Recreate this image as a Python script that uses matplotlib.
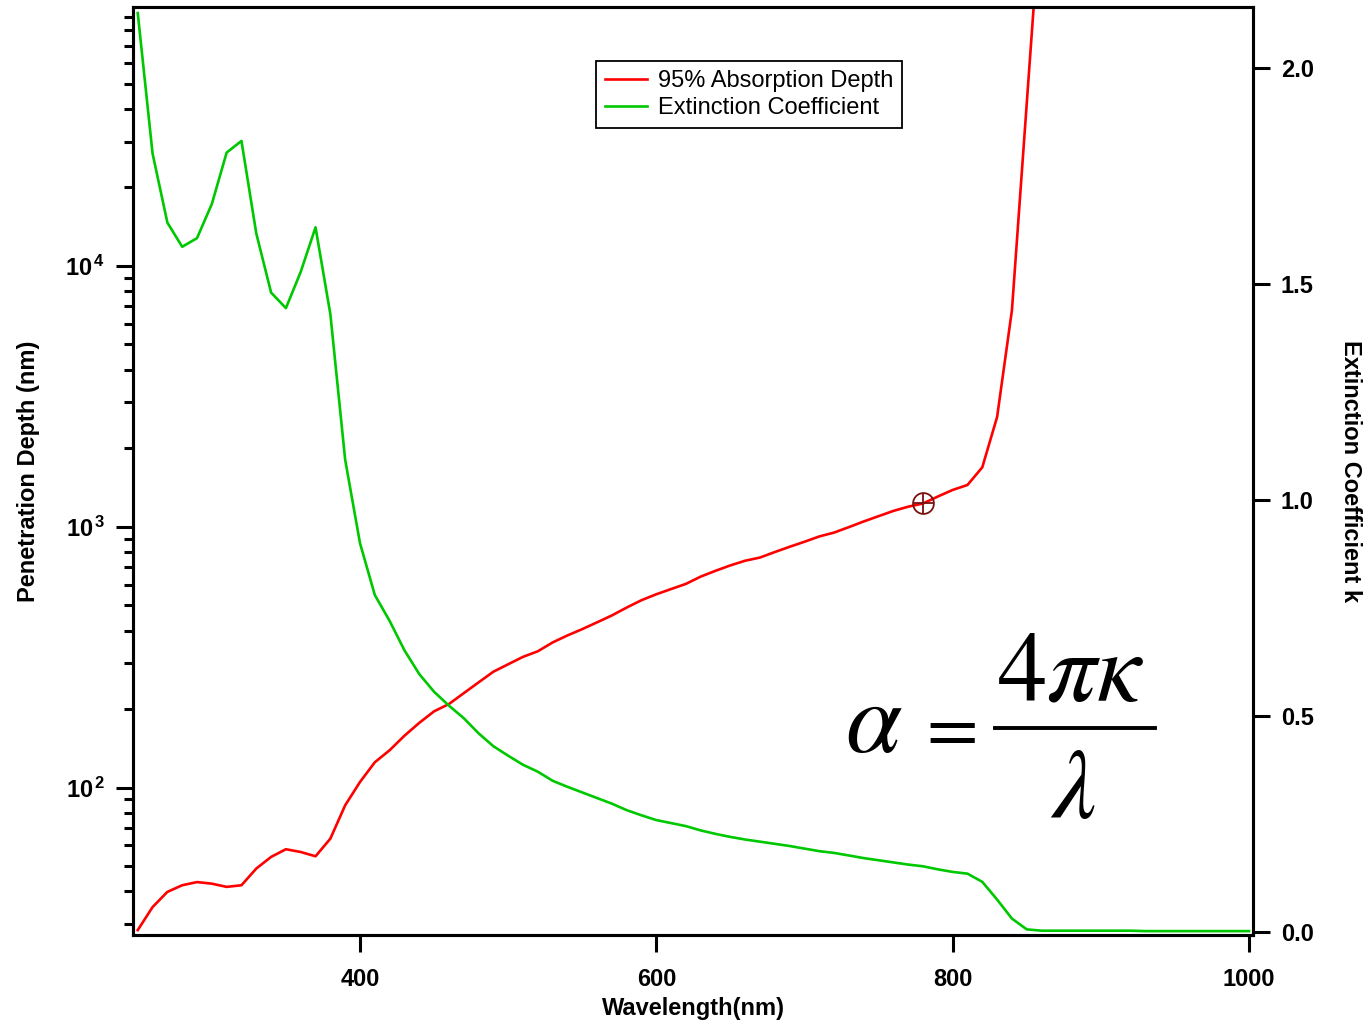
import math
import matplotlib
matplotlib.use("Agg")
import matplotlib.pyplot as plt
from matplotlib.lines import Line2D
from matplotlib.ticker import FixedLocator, LogLocator, NullFormatter, FuncFormatter

plt.rcParams['font.family'] = ['Liberation Sans', 'DejaVu Sans']
plt.rcParams['mathtext.fontset'] = 'custom'
plt.rcParams['mathtext.rm'] = 'Liberation Sans:bold'
plt.rcParams['mathtext.bf'] = 'Liberation Sans:bold'
plt.rcParams['mathtext.it'] = 'Liberation Sans:bold'

# ---------------- data ----------------
wavelength_k = list(range(250, 1001, 10))
extinction_k = [
    2.127, 1.802, 1.642, 1.586, 1.606, 1.685, 1.804, 1.831, 1.617, 1.480,   # 250-340
    1.444, 1.528, 1.631, 1.430, 1.093, 0.900, 0.780, 0.720, 0.652, 0.597,   # 350-440
    0.556, 0.524, 0.495, 0.460, 0.430, 0.408, 0.387, 0.371, 0.350, 0.336,   # 450-540
    0.323, 0.310, 0.297, 0.282, 0.270, 0.259, 0.252, 0.245, 0.235, 0.227,   # 550-640
    0.220, 0.214, 0.209, 0.204, 0.199, 0.193, 0.187, 0.183, 0.177, 0.171,   # 650-740
    0.166, 0.161, 0.156, 0.152, 0.145, 0.139, 0.135, 0.116, 0.075, 0.031,   # 750-840
    0.006, 0.003, 0.003, 0.003, 0.003, 0.003, 0.003, 0.003, 0.002, 0.002,   # 850-940
    0.002, 0.002, 0.002, 0.002, 0.002, 0.002,                               # 950-1000
]

wavelength_depth = list(range(250, 861, 10))
depth_nm = [
    28.4, 34.8, 39.8, 42.2, 43.4, 42.8, 41.6, 42.2, 48.9, 54.2,   # 250-340
    58.0, 56.6, 54.5, 63.7, 85.5, 105, 125, 139, 158, 177,         # 350-440
    196, 209, 230, 253, 278, 297, 317, 333, 360, 383,              # 450-540
    405, 430, 457, 490, 523, 551, 577, 604, 644, 678,              # 550-640
    711, 741, 762, 800, 838, 876, 918, 950, 997, 1048,             # 650-740
    1098, 1150, 1194, 1228, 1306, 1384, 1446, 1690, 2637, 6760,    # 750-840
    42000, 260000,                                                 # 850-860
]

cursor_wl = [780]
cursor_depth = [1228]

label_depth = "95% Absorption Depth"
label_k = "Extinction Coefficient"
x_ticks = [400, 600, 800, 1000]
k_ticks = [0.0, 0.5, 1.0, 1.5, 2.0]

# ---------------- figure ----------------
W, H = 1367, 1022
fig = plt.figure(figsize=(W / 100, H / 100), dpi=100)
ax = fig.add_axes([133 / W, 1 - 935 / H, (1253 - 133) / W, (935 - 7) / H])
ax2 = ax.twinx()

red = '#ff0000'
green = '#00c800'

l1, = ax.plot(wavelength_depth, depth_nm, color=red, lw=1.9, label=label_depth)
ax.plot(cursor_wl, cursor_depth, ls='none', marker='o', mfc='none', mec='#7a1010', ms=15, mew=1.3)
ax.plot(cursor_wl, cursor_depth, ls='none', marker='+', mec='#7a1010', ms=15, mew=1.3)
l2, = ax2.plot(wavelength_k, extinction_k, color=green, lw=1.9, label=label_k)

ax.set_yscale('log')
ax.set_xlim(246.8, 1002.7)
ax.set_ylim(27.2, 98400)
ax2.set_ylim(-0.007, 2.141)

ax.xaxis.set_major_locator(FixedLocator(x_ticks))
ax.yaxis.set_major_locator(LogLocator(base=10, numticks=10))
ax.yaxis.set_minor_locator(LogLocator(base=10, subs=range(2, 10), numticks=20))
ax.yaxis.set_minor_formatter(NullFormatter())
ax.yaxis.set_major_formatter(FuncFormatter(lambda v, p: r'$\mathbf{10^{\,%d}}$' % round(math.log10(v))))
ax2.yaxis.set_major_locator(FixedLocator(k_ticks))
ax2.yaxis.set_major_formatter(FuncFormatter(lambda v, p: '%.1f' % v))

for a in (ax, ax2):
    for s in a.spines.values():
        s.set_linewidth(2.2)
ax.tick_params(axis='x', which='major', direction='out', length=12, width=2.2,
               labelsize=17, pad=12, top=False)
ax.tick_params(axis='y', which='major', direction='out', length=12, width=2.2,
               labelsize=17, pad=8, right=False)
ax.tick_params(axis='y', which='minor', direction='out', length=6.5, width=2.2, right=False)
ax2.tick_params(axis='y', which='major', direction='out', length=12, width=2.2,
                labelsize=17, pad=8)
for lab in ax.get_xticklabels() + ax2.get_yticklabels():
    lab.set_fontweight('bold')

ax.set_xlabel('Wavelength(nm)', fontsize=17, fontweight='bold', labelpad=4)
ax.set_ylabel('Penetration Depth (nm)', fontsize=17, fontweight='bold', labelpad=18)
ax2.set_ylabel('Extinction Coefficient k', fontsize=17, fontweight='bold',
               rotation=-90, labelpad=35)

leg = ax2.legend(handles=[l1, l2], loc='upper left',
                 bbox_to_anchor=(596 / W, 1 - 61 / H), bbox_transform=fig.transFigure,
                 fontsize=17, frameon=True, fancybox=False, framealpha=1,
                 edgecolor='black', handlelength=1.8, handletextpad=0.45,
                 labelspacing=0.22, borderpad=0.38, borderaxespad=0)
leg.get_frame().set_linewidth(1.3)

# formula alpha = 4 pi kappa / lambda, composed piecewise
def fx(px):
    return px / W

def fy(py):
    return 1 - py / H

fig.text(fx(874), fy(752), r'$\alpha$', fontsize=73, math_fontfamily='stix',
         ha='center', va='baseline')
fig.text(fx(946), fy(730), r'$=$', fontsize=54, math_fontfamily='stix',
         ha='center', va='center')
fig.text(fx(1070), fy(700), r'$4\pi\kappa$', fontsize=71, math_fontfamily='stix',
         ha='center', va='baseline')
fig.text(fx(1073), fy(818), r'$\lambda$', fontsize=71, math_fontfamily='stix',
         ha='center', va='baseline')
fig.add_artist(Line2D([fx(995), fx(1155)], [fy(728), fy(728)], color='black',
                      lw=2.8, transform=fig.transFigure))

fig.savefig('out.png', dpi=100)
